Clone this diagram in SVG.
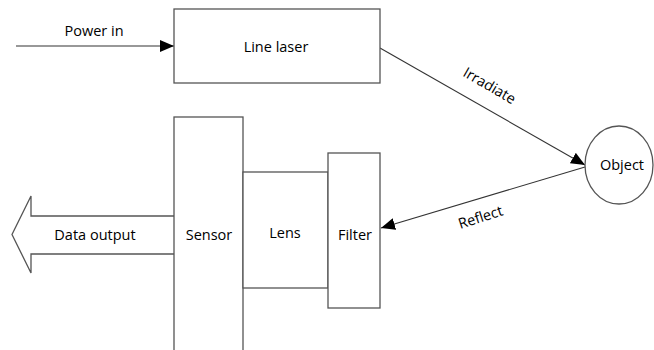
<svg xmlns="http://www.w3.org/2000/svg" width="654" height="350" viewBox="0 0 654 350">
<defs>
<marker id="ah" viewBox="0 0 14 12" refX="14" refY="6" markerWidth="14" markerHeight="12" markerUnits="userSpaceOnUse" orient="auto">
<path d="M0,0 L14,6 L0,12 Z" fill="#000"/>
</marker>
</defs>
<style>
.box{fill:#fff;stroke:#555;stroke-width:1.3}
.t{font-family:"Open Sans","Noto Sans",sans-serif;font-size:14.5px;fill:#000;text-anchor:middle}
.c{fill:none;stroke:#333;stroke-width:1.1}
</style>
<rect width="654" height="350" fill="#fff"/>
<g id="connectors">
<line class="c" x1="16" y1="46" x2="174" y2="46" marker-end="url(#ah)"/>
<line class="c" x1="380" y1="48" x2="585" y2="165" marker-end="url(#ah)"/>
<line class="c" x1="585" y1="167" x2="381" y2="228" marker-end="url(#ah)"/>
<path id="data-output" d="M174,216 L31,216 L31,196 L12,234.5 L31,273 L31,254 L174,254" fill="#fff" stroke="#555" stroke-width="1.3"/>
</g>
<g id="line-laser">
<rect class="box" x="174" y="9" width="206" height="74"/>
<text class="t" x="276" y="52">Line laser</text>
</g>
<g id="sensor">
<rect class="box" x="174" y="117" width="69" height="240"/>
<text class="t" x="209" y="240">Sensor</text>
</g>
<g id="lens">
<rect class="box" x="243" y="172" width="85" height="116"/>
<text class="t" x="285" y="238">Lens</text>
</g>
<g id="filter">
<rect class="box" x="328" y="153" width="52" height="155"/>
<text class="t" x="355" y="240">Filter</text>
</g>
<g id="object">
<ellipse class="box" cx="619" cy="165" rx="34" ry="39"/>
<text class="t" x="622" y="170">Object</text>
</g>
<text class="t" x="94" y="36">Power in</text>
<text class="t" x="95" y="240">Data output</text>
<text class="t" transform="translate(487,90) rotate(30)">Irradiate</text>
<text class="t" transform="translate(482,222) rotate(-18)">Reflect</text>
</svg>
